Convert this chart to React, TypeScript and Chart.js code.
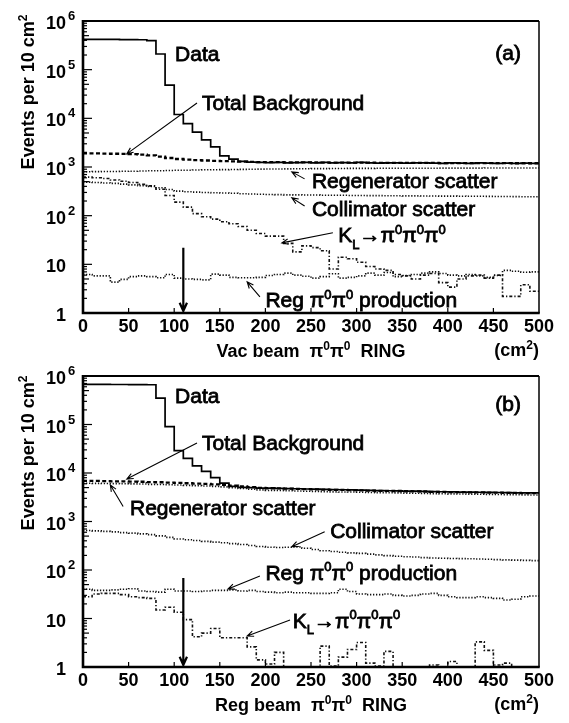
import React, { useEffect, useRef } from 'react';
import { Chart, registerables } from 'chart.js';

Chart.register(...registerables);

const FONT = '"Liberation Sans", Arial, Helvetica, sans-serif';

// ---- categories / ticks ----
const BIN_STARTS = [0, 10, 20, 30, 40, 50, 60, 70, 80, 90, 100, 110, 120, 130, 140, 150, 160, 170, 180, 190,
  200, 210, 220, 230, 240, 250, 260, 270, 280, 290, 300, 310, 320, 330, 340, 350, 360, 370, 380, 390,
  400, 410, 420, 430, 440, 450, 460, 470, 480, 490];
const X_END = 500;
const X_TICKS = [0, 50, 100, 150, 200, 250, 300, 350, 400, 450, 500];
const Y_EXPONENTS = [0, 1, 2, 3, 4, 5, 6];
const CUT_VALUE = 110;

// ---- panel (a): vacuum beam ----
const A_DATA = [420000, 420000, 418000, 418000, 415000, 415000, 412000, 395000, 210000, 48000,
  12000, 7800, 5200, 3600, 2600, 1700, 1450, 1300, 1260, 1240,
  1230, 1250, 1220, 1230, 1250, 1220, 1240, 1210, 1230, 1220,
  1240, 1210, 1200, 1220, 1210, 1200, 1220, 1210, 1200, 1190,
  1210, 1200, 1190, 1210, 1200, 1190, 1200, 1190, 1200, 1190];
const A_TOTAL = [1900, 1900, 1890, 1870, 1860, 1840, 1790, 1740, 1640, 1530,
  1460, 1420, 1380, 1360, 1340, 1320, 1300, 1290, 1270, 1265,
  1260, 1255, 1250, 1240, 1245, 1240, 1235, 1230, 1230, 1230,
  1225, 1225, 1220, 1220, 1215, 1215, 1215, 1210, 1210, 1205,
  1205, 1205, 1205, 1200, 1200, 1200, 1200, 1195, 1195, 1195];
const A_REGEN = [800, 805, 810, 810, 815, 820, 825, 835, 840, 850,
  855, 860, 870, 875, 880, 885, 890, 895, 900, 905,
  910, 910, 915, 920, 920, 925, 925, 930, 930, 935,
  935, 935, 940, 940, 940, 945, 945, 945, 945, 950,
  950, 950, 950, 950, 955, 955, 955, 955, 955, 955];
const A_COLL = [490, 480, 470, 460, 445, 430, 415, 400, 375, 345,
  320, 310, 305, 300, 295, 292, 288, 283, 278, 275,
  272, 270, 268, 267, 265, 265, 263, 262, 262, 260,
  260, 258, 258, 257, 256, 255, 255, 254, 253, 252,
  252, 251, 250, 250, 249, 248, 247, 246, 245, 244];
const A_KL = [620, 600, 580, 540, 510, 480, 440, 410, 350, 260,
  190, 150, 110, 95, 85, 75, 68, 60, 50, 43,
  38, 38, 27, 18, 24, 22, 19, 8, 14, 13,
  11, 9, 8, 7.5, 6.2, 5.8, 5, 6, 6.5, 4.2,
  3.4, 5, 5.8, 6, 5.2, 6, 2.2, 2.2, 3.8, 2.8];
const A_PROD = [6.2, 5.8, 5.8, 4.3, 4.9, 5.6, 5.8, 5.6, 5.3, 6.2,
  5.2, 5.0, 4.9, 4.8, 6.3, 6.0, 5.4, 5.3, 5.3, 5.4,
  5.9, 6.2, 6.6, 6.0, 5.7, 5.2, 5.6, 6.4, 5.2, 5.4,
  5.8, 6.6, 6.0, 6.8, 5.6, 5.9, 6.2, 6.6, 7.0, 6.5,
  6.0, 5.8, 6.2, 5.8, 5.4, 5.9, 7.5, 7.2, 6.9, 7.0];

// ---- panel (b): regenerator beam ----
const B_DATA = [672000, 670000, 670000, 668000, 668000, 666000, 665000, 660000, 350000, 90000,
  29000, 20000, 14000, 10800, 8000, 6200, 5300, 5050, 4980, 4900,
  4860, 4820, 4780, 4730, 4680, 4630, 4580, 4530, 4510, 4480,
  4430, 4380, 4330, 4310, 4280, 4230, 4210, 4180, 4130, 4110,
  4080, 4050, 4030, 4010, 3980, 3960, 3930, 3910, 3890, 3880];
const B_TOTAL = [6900, 6850, 6800, 6750, 6700, 6650, 6600, 6500, 6450, 6350,
  6250, 6150, 6050, 5950, 5850, 5700, 5500, 5300, 5100, 4950,
  4850, 4800, 4750, 4700, 4650, 4600, 4550, 4500, 4480, 4450,
  4400, 4350, 4300, 4280, 4250, 4200, 4180, 4150, 4100, 4080,
  4050, 4020, 4000, 3980, 3950, 3930, 3900, 3880, 3860, 3850];
const B_REGEN = [6150, 6120, 6080, 6040, 6000, 5960, 5920, 5840, 5810, 5730,
  5650, 5570, 5490, 5400, 5310, 5180, 5000, 4810, 4620, 4480,
  4390, 4350, 4300, 4250, 4210, 4170, 4130, 4090, 4070, 4050,
  4010, 3970, 3930, 3910, 3890, 3850, 3830, 3800, 3760, 3740,
  3720, 3690, 3670, 3650, 3620, 3600, 3580, 3560, 3540, 3530];
const B_COLL = [650, 640, 625, 610, 590, 575, 555, 535, 505, 470,
  435, 420, 405, 390, 375, 365, 350, 335, 320, 305,
  295, 290, 295, 300, 280, 265, 250, 240, 232, 226,
  220, 212, 205, 198, 192, 188, 185, 180, 177, 175,
  173, 172, 170, 168, 166, 164, 162, 160, 158, 156];
const B_KL = [28, 32, 33, 33, 31, 28, 27, 26, 15, 17,
  13.5, 9.5, 4.2, 5, 6.2, 4.0, 4.0, 4.0, 2.6, 1.4,
  1.15, 2.0, 0, 0, 0, 0, 2.7, 1.05, 1.6, 2.3,
  3.2, 1.2, 1.05, 2.1, 0, 0, 0, 0, 1.1, 1.0,
  1.3, 0, 0, 3.3, 2.2, 1.1, 1.2, 0, 0, 0];
const B_PROD = [40, 38, 38, 39, 40, 41, 37, 36, 35, 40,
  37, 37, 36, 37, 38, 38, 39, 37, 38, 36,
  35, 34, 35, 34, 34, 33, 33, 34, 40, 36,
  32, 31, 31, 32, 30, 29, 30, 32, 33, 30,
  28, 27, 27, 28, 27, 26, 24, 25, 28, 29];

// ---- types ----
type Seg = { t: string; m?: 'sup' | 'sub' };
type Series = { values: number[]; color: string; width: number; dash: number[] };
type Note = { segs: Seg[]; x: number; y: number };
type Arrow = { x1: number; y1: number; x2: number; y2: number; bold?: boolean };
type Panel = {
  canvasH: number;
  top: number;
  bottomH: number;
  series: Series[];
  notes: Note[];
  arrows: Arrow[];
  xTitle: Seg[];
  titleY: number;
};

const sup = (t: string): Seg => ({ t, m: 'sup' });
const sub = (t: string): Seg => ({ t, m: 'sub' });
const n = (t: string): Seg => ({ t });

const KL_SEGS: Seg[] = [n('K'), sub('L'), n('\u2192\u03c0'), sup('0'), n('\u03c0'), sup('0'), n('\u03c0'), sup('0')];
const PROD_SEGS: Seg[] = [n('Reg \u03c0'), sup('0'), n('\u03c0'), sup('0'), n(' production')];

const BLACK = '#000';
const DOT = '#111';

const styleSeries = (data: number[], total: number[], regen: number[], coll: number[], kl: number[], prod: number[]): Series[] => [
  { values: prod, color: DOT, width: 1.6, dash: [1.3, 1.7] },
  { values: kl, color: DOT, width: 1.6, dash: [3, 2, 1.3, 2] },
  { values: coll, color: DOT, width: 1.6, dash: [1.3, 1.7] },
  { values: regen, color: DOT, width: 1.6, dash: [1.3, 1.7] },
  { values: total, color: BLACK, width: 2.3, dash: [4, 2.5] },
  { values: data, color: BLACK, width: 1.7, dash: [] },
];

const PANEL_A: Panel = {
  canvasH: 361,
  top: 21,
  bottomH: 48,
  series: styleSeries(A_DATA, A_TOTAL, A_REGEN, A_COLL, A_KL, A_PROD),
  notes: [
    { segs: [n('Data')], x: 101, y: 2.2e5 },
    { segs: [n('(a)')], x: 452, y: 2.3e5 },
    { segs: [n('Total Background')], x: 130.5, y: 2.17e4 },
    { segs: [n('Regenerator scatter')], x: 251, y: 519 },
    { segs: [n('Collimator scatter')], x: 251, y: 138 },
    { segs: KL_SEGS, x: 280, y: 40.4 },
    { segs: PROD_SEGS, x: 200, y: 1.87 },
  ],
  arrows: [
    { x1: 125, y1: 2.07e4, x2: 48, y2: 1860 },
    { x1: 243, y1: 570, x2: 229, y2: 794 },
    { x1: 243, y1: 158, x2: 229, y2: 232 },
    { x1: 274, y1: 44.4, x2: 218, y2: 27.6 },
    { x1: 194, y1: 2.15, x2: 180, y2: 4.38 },
    { x1: CUT_VALUE, y1: 22, x2: CUT_VALUE, y2: 1.1, bold: true },
  ],
  xTitle: [n('Vac beam  \u03c0'), sup('0'), n('\u03c0'), sup('0'), n('  RING')],
  titleY: 92,
};

const PANEL_B: Panel = {
  canvasH: 362,
  top: 15,
  bottomH: 56,
  series: styleSeries(B_DATA, B_TOTAL, B_REGEN, B_COLL, B_KL, B_PROD),
  notes: [
    { segs: [n('Data')], x: 101, y: 4.06e5 },
    { segs: [n('(b)')], x: 452, y: 2.77e5 },
    { segs: [n('Total Background')], x: 130.5, y: 4.36e4 },
    { segs: [n('Regenerator scatter')], x: 51.5, y: 1990 },
    { segs: [n('Collimator scatter')], x: 271, y: 668 },
    { segs: PROD_SEGS, x: 200, y: 91 },
    { segs: KL_SEGS, x: 230, y: 9.3 },
  ],
  arrows: [
    { x1: 125, y1: 4.16e4, x2: 48, y2: 7500 },
    { x1: 44, y1: 2040, x2: 30, y2: 5660 },
    { x1: 265, y1: 617, x2: 229, y2: 302 },
    { x1: 194, y1: 75, x2: 159, y2: 40.5 },
    { x1: 227, y1: 9.3, x2: 180, y2: 4.36 },
    { x1: CUT_VALUE, y1: 68, x2: CUT_VALUE, y2: 1.1, bold: true },
  ],
  xTitle: [n('Reg beam  \u03c0'), sup('0'), n('\u03c0'), sup('0'), n('  RING')],
  titleY: 92,
};

// ---- drawing helpers ----
function drawRich(ctx: CanvasRenderingContext2D, segs: Seg[], x: number, yc: number, size: number,
  align: 'left' | 'right' | 'center', weight = 'normal', stroke = 0) {
  const parts = segs.map((s) => {
    const fs = s.m ? Math.round(size * 0.64) : size;
    ctx.font = `${weight} ${fs}px ${FONT}`;
    return { ...s, fs, w: ctx.measureText(s.t).width };
  });
  const total = parts.reduce((a, p) => a + p.w, 0);
  let cx = align === 'left' ? x : align === 'right' ? x - total : x - total / 2;
  const base = yc + size * 0.36;
  ctx.textAlign = 'left';
  ctx.textBaseline = 'alphabetic';
  for (const p of parts) {
    ctx.font = `${weight} ${p.fs}px ${FONT}`;
    const dy = p.m === 'sup' ? -size * 0.42 : p.m === 'sub' ? size * 0.3 : 0;
    ctx.fillText(p.t, cx, base + dy);
    if (stroke) {
      ctx.lineWidth = stroke;
      ctx.strokeText(p.t, cx, base + dy);
    }
    cx += p.w;
  }
}

function drawArrow(ctx: CanvasRenderingContext2D, x1: number, y1: number, x2: number, y2: number, bold?: boolean) {
  const lw = bold ? 2.2 : 1.1;
  const head = bold ? 9 : 7;
  const spread = bold ? 0.42 : 0.4;
  ctx.lineWidth = lw;
  ctx.setLineDash([]);
  ctx.beginPath();
  ctx.moveTo(x1, y1);
  ctx.lineTo(x2, y2);
  const a = Math.atan2(y2 - y1, x2 - x1);
  ctx.moveTo(x2 - head * Math.cos(a - spread), y2 - head * Math.sin(a - spread));
  ctx.lineTo(x2, y2);
  ctx.lineTo(x2 - head * Math.cos(a + spread), y2 - head * Math.sin(a + spread));
  ctx.stroke();
}

function drawDecor(chart: Chart, p: Panel) {
  const ctx = chart.ctx;
  const area = chart.chartArea;
  const xs = chart.scales.x;
  const ys = chart.scales.y;
  ctx.save();
  ctx.strokeStyle = BLACK;
  ctx.fillStyle = BLACK;
  ctx.setLineDash([]);

  // frame
  ctx.lineWidth = 2;
  ctx.beginPath();
  ctx.moveTo(area.left, area.top);
  ctx.lineTo(area.right, area.top);
  ctx.stroke();
  ctx.lineWidth = 1.5;
  ctx.beginPath();
  ctx.moveTo(area.right, area.top);
  ctx.lineTo(area.right, area.bottom);
  ctx.stroke();
  ctx.lineWidth = 2.6;
  ctx.beginPath();
  ctx.moveTo(area.left, area.top - 1);
  ctx.lineTo(area.left, area.bottom);
  ctx.lineTo(area.right + 0.75, area.bottom);
  ctx.stroke();

  // y ticks (inward) and labels
  ctx.lineWidth = 1.2;
  for (const e of Y_EXPONENTS) {
    const dec = Math.pow(10, e);
    const py = ys.getPixelForValue(dec);
    ctx.beginPath();
    ctx.moveTo(area.left, py);
    ctx.lineTo(area.left + 9, py);
    ctx.stroke();
    if (e < 6) {
      for (let m = 2; m <= 9; m++) {
        const my = ys.getPixelForValue(m * dec);
        ctx.beginPath();
        ctx.moveTo(area.left, my);
        ctx.lineTo(area.left + (m === 5 ? 6 : 4), my);
        ctx.stroke();
      }
    }
    ctx.font = `bold 18px ${FONT}`;
    ctx.textAlign = 'right';
    ctx.textBaseline = 'alphabetic';
    const lbl = e === 0 ? '1' : '10';
    ctx.fillText(lbl, area.left - 17, py + 8);
    if (e >= 2) {
      ctx.font = `bold 13px ${FONT}`;
      ctx.textAlign = 'left';
      ctx.fillText(String(e), area.left - 15, py - 1);
    }
  }

  // x ticks and labels
  ctx.lineWidth = 1.2;
  for (const v of X_TICKS) {
    const px = xs.getPixelForValue(v);
    if (v > 0 && v < X_END) {
      ctx.beginPath();
      ctx.moveTo(px, area.bottom);
      ctx.lineTo(px, area.bottom - 5);
      ctx.stroke();
    }
    ctx.font = `bold 18px ${FONT}`;
    ctx.textAlign = 'center';
    ctx.textBaseline = 'alphabetic';
    ctx.fillText(String(v), px, area.bottom + 19);
  }

  // axis titles
  const midX = (area.left + area.right) / 2;
  drawRich(ctx, p.xTitle, midX, area.bottom + 38, 18, 'center', 'bold');
  drawRich(ctx, [n('(cm'), sup('2'), n(')')], area.right, area.bottom + 37, 18, 'right', 'bold');
  ctx.save();
  ctx.translate(28, p.titleY);
  ctx.rotate(-Math.PI / 2);
  drawRich(ctx, [n('Events per 10 cm'), sup('2')], 0, 0, 18, 'center', 'bold');
  ctx.restore();

  // annotations
  for (const note of p.notes) {
    drawRich(ctx, note.segs, xs.getPixelForValue(note.x), ys.getPixelForValue(note.y), 21, 'left', 'normal', 0.8);
  }
  for (const a of p.arrows) {
    drawArrow(ctx, xs.getPixelForValue(a.x1), ys.getPixelForValue(a.y1), xs.getPixelForValue(a.x2), ys.getPixelForValue(a.y2), a.bold);
  }
  ctx.restore();
}

const EMPTY_FLOOR = 0.2;
const toSteps = (values: number[]) => {
  const pts = values.map((v, i) => ({ x: BIN_STARTS[i], y: v > 0 ? v : EMPTY_FLOOR }));
  const last = values[values.length - 1];
  pts.push({ x: X_END, y: last > 0 ? last : EMPTY_FLOOR });
  return pts;
};

function PanelChart({ panel, id }: { panel: Panel; id: string }) {
  const ref = useRef<HTMLCanvasElement | null>(null);
  useEffect(() => {
    if (!ref.current) return;
    const decor = { id: 'decor' + id, afterDraw: (chart: Chart) => drawDecor(chart, panel) };
    const chart = new Chart(ref.current, {
      type: 'line',
      data: {
        datasets: panel.series.map((s) => ({
          data: toSteps(s.values),
          borderColor: s.color,
          borderWidth: s.width,
          borderDash: s.dash,
          stepped: true,
          pointRadius: 0,
          fill: false,
          tension: 0,
          clip: 0,
        })),
      },
      options: {
        animation: false,
        responsive: false,
        maintainAspectRatio: false,
        events: [],
        layout: { padding: { top: panel.top, right: 30, left: 0, bottom: 0 } },
        plugins: { legend: { display: false }, tooltip: { enabled: false }, title: { display: false } },
        scales: {
          x: {
            type: 'linear', min: 0, max: X_END,
            ticks: { display: false }, grid: { display: false }, border: { display: false },
            afterFit: (s: any) => { s.height = panel.bottomH; },
          },
          y: {
            type: 'logarithmic', min: 1, max: 1e6,
            ticks: { display: false }, grid: { display: false }, border: { display: false },
            afterFit: (s: any) => { s.width = 83; },
          },
        },
      } as any,
      plugins: [decor],
    });
    return () => chart.destroy();
  }, [panel, id]);
  return <canvas ref={ref} width={569} height={panel.canvasH} style={{ display: 'block', width: 569, height: panel.canvasH }} />;
}

export default function App() {
  return (
    <div style={{ position: 'absolute', left: 0, top: 0, width: 569, height: 723, background: '#fff' }}>
      <PanelChart panel={PANEL_A} id="a" />
      <PanelChart panel={PANEL_B} id="b" />
    </div>
  );
}
